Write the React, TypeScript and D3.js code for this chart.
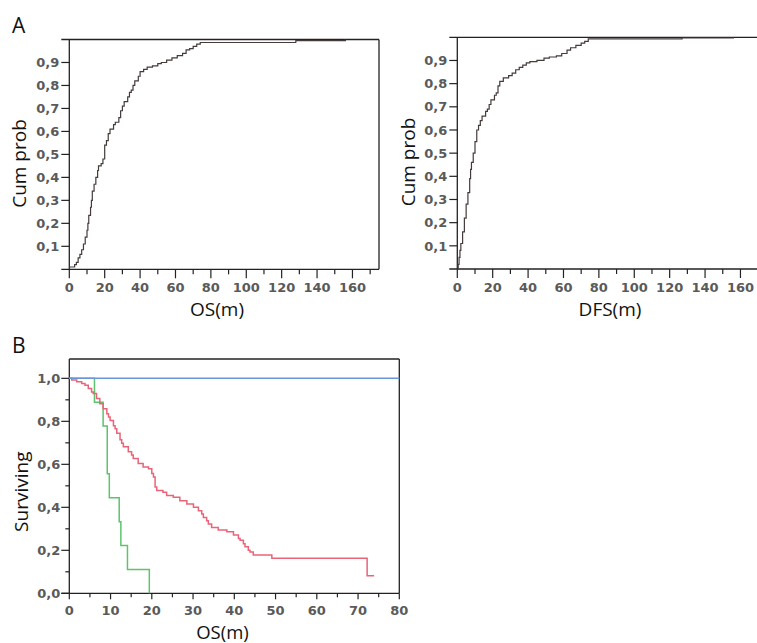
import React from 'react';
import * as d3 from 'd3';

// A, left: cumulative probability of OS (months)
const osMonths = [0, 3, 4, 5, 6, 7, 8, 9, 10, 10.5, 11, 12, 12.5, 13, 14, 15, 16, 16.5, 18, 19, 20, 21, 22, 23, 25, 26, 28, 29, 30, 31, 33, 34, 35, 36, 37, 39, 40, 42, 44, 47, 50, 52, 55, 58, 61, 64, 66, 68, 70, 72, 74, 128, 156];
const osCumProb = [0.01, 0.02, 0.03, 0.05, 0.065, 0.085, 0.11, 0.14, 0.17, 0.2, 0.235, 0.27, 0.3, 0.34, 0.37, 0.4, 0.43, 0.45, 0.46, 0.48, 0.54, 0.56, 0.59, 0.61, 0.63, 0.64, 0.66, 0.69, 0.71, 0.73, 0.75, 0.77, 0.78, 0.8, 0.82, 0.84, 0.86, 0.87, 0.88, 0.885, 0.895, 0.9, 0.91, 0.92, 0.93, 0.94, 0.955, 0.96, 0.97, 0.98, 0.987, 0.995, 1.0];

// A, right: cumulative probability of DFS (months)
const dfsMonths = [0, 0.5, 1, 1.5, 2, 3, 4, 5, 6, 7, 7.5, 8, 9, 10, 11, 12, 13, 14, 16, 17, 18, 19, 21, 22, 23, 24, 26, 29, 31, 33, 35, 37, 39, 41, 45, 49, 52, 56, 59, 62, 64, 67, 70, 72, 74, 127, 156];
const dfsCumProb = [0.0, 0.02, 0.05, 0.08, 0.11, 0.16, 0.22, 0.28, 0.33, 0.39, 0.43, 0.46, 0.5, 0.55, 0.6, 0.62, 0.64, 0.66, 0.68, 0.69, 0.71, 0.73, 0.75, 0.76, 0.79, 0.81, 0.825, 0.835, 0.845, 0.86, 0.87, 0.88, 0.89, 0.895, 0.9, 0.91, 0.915, 0.92, 0.93, 0.945, 0.955, 0.965, 0.975, 0.982, 0.993, 0.997, 1.0];

// B: survival curves (OS, months)
const blueMonths = [0, 80];
const blueSurv = [1, 1];
const greenMonths = [0, 6.1, 8.2, 9.2, 9.7, 12.1, 12.5, 14.1, 19.4];
const greenSurv = [1, 0.889, 0.778, 0.556, 0.444, 0.333, 0.222, 0.111, 0];
const redMonths = [0, 0.6, 1.8, 3, 3.8, 4.6, 5.4, 5.8, 6.6, 7.4, 8.2, 9.1, 9.5, 9.9, 10.7, 11.1, 11.5, 12.3, 12.7, 13.1, 14.3, 15.1, 15.5, 16.7, 17.9, 19.2, 20.0, 20.4, 20.8, 21.2, 22.7, 23.6, 25.2, 26.8, 28.5, 30.1, 31.3, 32.1, 32.5, 33.3, 33.7, 34.5, 36.1, 38.2, 39.8, 41, 41.4, 42.2, 42.6, 43.4, 43.8, 44.6, 49.1, 72.2, 73.9];
const redSurv = [1, 0.992, 0.984, 0.976, 0.968, 0.953, 0.937, 0.929, 0.906, 0.882, 0.859, 0.835, 0.82, 0.804, 0.78, 0.765, 0.745, 0.714, 0.698, 0.682, 0.659, 0.643, 0.627, 0.604, 0.588, 0.58, 0.557, 0.541, 0.494, 0.478, 0.47, 0.455, 0.447, 0.431, 0.416, 0.4, 0.384, 0.369, 0.353, 0.337, 0.322, 0.306, 0.294, 0.286, 0.271, 0.255, 0.247, 0.231, 0.216, 0.2, 0.192, 0.178, 0.163, 0.082, 0.082];

const tickFont = { fontFamily: 'DejaVu Sans', fontSize: 13, fontWeight: 'bold', fill: '#5a5a5a' } as const;
const labelFont = { fontFamily: 'Open Sans', fontSize: 19, fill: '#111' } as const;
const frameColor = '#222';

const comma = (f: string) => (v: number) => d3.format(f)(v).replace('.', ',');

const stepPath = (xs: number[], ys: number[], x: any, y: any) =>
  d3.line<number>()
    .x((i) => x(xs[i]))
    .y((i) => y(ys[i]))
    .curve(d3.curveStepAfter)(d3.range(xs.length)) || '';

type CdfProps = {
  left: number; right: number; top: number; bottom: number;
  times: number[]; probs: number[];
  xLabel: string; xLabelX: number; yLabelX: number; yLabelY: number;
};

const CdfPanel = ({ left, right, top, bottom, times, probs, xLabel, xLabelX, yLabelX, yLabelY }: CdfProps) => {
  const x = d3.scaleLinear().domain([0, 175]).range([left, right]);
  const y = d3.scaleLinear().domain([0, 1]).range([bottom, top]);
  const xTicks = d3.range(0, 175, 10);
  const yTicks = d3.range(1, 10).map((d) => d / 10);
  const fmt = comma('.1f');
  return (
    <g>
      {/* frame */}
      <line x1={left - 8} x2={right} y1={y(1)} y2={y(1)} stroke={frameColor} strokeWidth={1.3} />
      <line x1={left - 8} x2={right} y1={y(0)} y2={y(0)} stroke={frameColor} strokeWidth={1.3} />
      <line x1={left} x2={left} y1={y(1)} y2={y(0)} stroke={frameColor} strokeWidth={1.3} />
      <line x1={right} x2={right} y1={y(1)} y2={y(0)} stroke={frameColor} strokeWidth={1.3} />

      {xTicks.map((t) => (
        <g key={t}>
          <line x1={x(t)} x2={x(t)} y1={y(0)} y2={y(0) + (t % 20 === 0 ? 9 : 5)} stroke={frameColor} strokeWidth={1.2} />
          {t % 20 === 0 && (
            <text x={x(t)} y={y(0) + 23} textAnchor="middle" style={tickFont}>{t}</text>
          )}
        </g>
      ))}
      {yTicks.map((t) => (
        <g key={t}>
          <line x1={left - 8} x2={left} y1={y(t)} y2={y(t)} stroke={frameColor} strokeWidth={1.2} />
          <text x={left - 10} y={y(t)} dy="0.36em" textAnchor="end" style={tickFont}>{fmt(t)}</text>
        </g>
      ))}

      <path d={stepPath(times, probs, x, y)} fill="none" stroke="#453b3b" strokeWidth={1.2} />

      <text x={xLabelX} y={316} textAnchor="middle" style={labelFont}>{xLabel}</text>
      <text transform={`translate(${yLabelX},${yLabelY}) rotate(-90)`} textAnchor="middle" style={labelFont}>Cum prob</text>
    </g>
  );
};

const KmPanel = () => {
  const left = 69.3, right = 399.3, bottom = 593.3, top = 359;
  const x = d3.scaleLinear().domain([0, 80]).range([left, right]);
  const y = d3.scaleLinear().domain([0, 1.09]).range([bottom, top]);
  const xTicks = d3.range(0, 81, 5);
  const yTicks = d3.range(0, 11).map((d) => d / 10);
  const fmt = comma('.1f');
  return (
    <g>
      <line x1={left} x2={right} y1={top} y2={top} stroke={frameColor} strokeWidth={1.3} />
      <line x1={left - 8} x2={right} y1={bottom} y2={bottom} stroke={frameColor} strokeWidth={1.3} />
      <line x1={left} x2={left} y1={top} y2={bottom} stroke={frameColor} strokeWidth={1.3} />
      <line x1={right} x2={right} y1={top} y2={bottom} stroke={frameColor} strokeWidth={1.3} />

      {xTicks.map((t) => (
        <g key={t}>
          <line x1={x(t)} x2={x(t)} y1={bottom} y2={bottom + (t % 10 === 0 ? 6 : 4)} stroke={frameColor} strokeWidth={1.2} />
          {t % 10 === 0 && (
            <text x={x(t)} y={bottom + 21.5} textAnchor="middle" style={tickFont}>{t}</text>
          )}
        </g>
      ))}
      {yTicks.map((t, i) => (
        <g key={t}>
          <line x1={left - (i % 2 === 0 ? 8 : 4)} x2={left} y1={y(t)} y2={y(t)} stroke={frameColor} strokeWidth={1.2} />
          {i % 2 === 0 && (
            <text x={left - 9} y={y(t)} dy="0.36em" textAnchor="end" style={tickFont}>{fmt(t)}</text>
          )}
        </g>
      ))}

      <path d={stepPath(greenMonths, greenSurv, x, y)} fill="none" stroke="#5cc46c" strokeWidth={1.5} />
      <path d={stepPath(redMonths, redSurv, x, y)} fill="none" stroke="#ea6479" strokeWidth={1.5} />
      <path d={stepPath(blueMonths, blueSurv, x, y)} fill="none" stroke="#6a96da" strokeWidth={1.5} />

      <text x={222.5} y={638.5} textAnchor="middle" style={{ ...labelFont, fontSize: 18.5 }}>OS(m)</text>
      <text transform="translate(28,491.7) rotate(-90)" textAnchor="middle" style={labelFont}>Surviving</text>
    </g>
  );
};

export default function App() {
  return (
    <svg width={757} height={643} style={{ position: 'absolute', left: 0, top: 0, background: '#fff' }}>
      <text x={12} y={33} style={{ fontFamily: 'Open Sans', fontSize: 21, fill: '#111' }}>A</text>
      <text x={12} y={353} style={{ fontFamily: 'Open Sans', fontSize: 21, fill: '#111' }}>B</text>
      <CdfPanel left={69.3} right={379} top={39.5} bottom={269.3} times={osMonths} probs={osCumProb}
        xLabel="OS(m)" xLabelX={217} yLabelX={26} yLabelY={163.5} />
      <CdfPanel left={457.3} right={767} top={37.3} bottom={269} times={dfsMonths} probs={dfsCumProb}
        xLabel="DFS(m)" xLabelX={610} yLabelX={415} yLabelY={162} />
      <KmPanel />
    </svg>
  );
}
